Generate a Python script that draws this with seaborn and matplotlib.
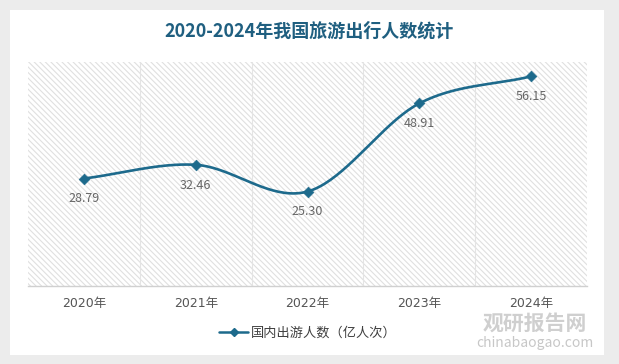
import numpy as np
import pandas as pd
import seaborn as sns
import matplotlib.pyplot as plt
from matplotlib.patches import Rectangle
from matplotlib.lines import Line2D

years = ['2020年', '2021年', '2022年', '2023年', '2024年']
trips = [28.79, 32.46, 25.30, 48.91, 56.15]
series_name = '国内出游人数（亿人次）'
title = '2020-2024年我国旅游出行人数统计'

sns.set_theme(style='white')
plt.rcParams['font.family'] = ['Noto Sans CJK SC', 'DejaVu Sans']
plt.rcParams['hatch.linewidth'] = 0.8

line_color = '#1d6a8c'
text_grey = '#666666'

df = pd.DataFrame({'x': np.arange(len(years)), 'year': years, 'value': trips})

fig = plt.figure(figsize=(6.19, 3.64), dpi=100, facecolor='#ececec')
# white card, behind the axes
fig.patches.append(Rectangle((10 / 619, 9 / 364), 594 / 619, 345 / 364,
                             transform=fig.transFigure, facecolor='white',
                             edgecolor='none', zorder=-5))

ax = fig.add_axes([28 / 619, 78 / 364, 559 / 619, 224 / 364])
ax.set_facecolor('none')
ax.set_xlim(-0.5, len(years) - 0.5)
ax.set_ylim(0, 60)

# hatched plot background
ax.add_patch(Rectangle((0, 0), 1, 1, transform=ax.transAxes, facecolor='white',
                       edgecolor='#e0e0e0', hatch='\\\\\\\\\\\\', linewidth=0, zorder=0))

for b in np.arange(0.5, len(years) - 0.5, 1):
    ax.axvline(b, color='#e4e4e4', lw=0.8, zorder=1)

# smooth curve (Catmull-Rom through the data points)
xs = df['x'].to_numpy(float)
ys = df['value'].to_numpy(float)
px = np.concatenate([[2 * xs[0] - xs[1]], xs, [2 * xs[-1] - xs[-2]]])
py = np.concatenate([[2 * ys[0] - ys[1]], ys, [2 * ys[-1] - ys[-2]]])
cx, cy = [], []
t = np.linspace(0, 1, 40)
for i in range(1, len(px) - 2):
    for P, out in ((px, cx), (py, cy)):
        p0, p1, p2, p3 = P[i - 1], P[i], P[i + 1], P[i + 2]
        out.extend(0.5 * (2 * p1 + (-p0 + p2) * t + (2 * p0 - 5 * p1 + 4 * p2 - p3) * t ** 2
                          + (-p0 + 3 * p1 - 3 * p2 + p3) * t ** 3))
ax.plot(cx, cy, color=line_color, lw=1.9, zorder=3)
sns.scatterplot(data=df, x='x', y='value', marker='D', s=30, color=line_color,
                edgecolor=line_color, ax=ax, zorder=4, legend=False)

for x, v in zip(xs, ys):
    ax.annotate(f'{v:.2f}', (x, v), xytext=(0, -10), textcoords='offset points',
                ha='center', va='top', fontsize=9, color=text_grey)

ax.set_xticks(xs)
ax.set_xticklabels(years, fontsize=9, color='#555555',
                   family=['DejaVu Sans', 'Noto Sans CJK SC'])
ax.tick_params(axis='x', length=0, pad=8)
ax.set_yticks([])
ax.set_xlabel('')
ax.set_ylabel('')
for s in ['top', 'right', 'left']:
    ax.spines[s].set_visible(False)
ax.spines['bottom'].set_color('#d0d0d0')
ax.spines['bottom'].set_linewidth(1)

handle = Line2D([], [], color=line_color, lw=1.8, marker='D', markersize=4)
fig.legend([handle], [series_name], loc='center', bbox_to_anchor=(308 / 619, 1 - 333 / 364),
           frameon=False, fontsize=9.5, handlelength=2.2, handletextpad=0.2,
           labelcolor='#404040')

fig.text(0.5, 1 - 31 / 364, title, ha='center', va='center', fontsize=13,
         fontweight='bold', color='#1f5f80')

# watermark
fig.text(535 / 619, 1 - 323 / 364, '观研报告网', ha='center', va='center', fontsize=15,
         fontweight='bold', color='#b0b0b0', alpha=0.6)
fig.text(535 / 619, 1 - 343 / 364, 'chinabaogao.com', ha='center', va='center', fontsize=10,
         color='#b0b0b0', alpha=0.7)

fig.savefig('out.png', dpi=100, facecolor=fig.get_facecolor())
